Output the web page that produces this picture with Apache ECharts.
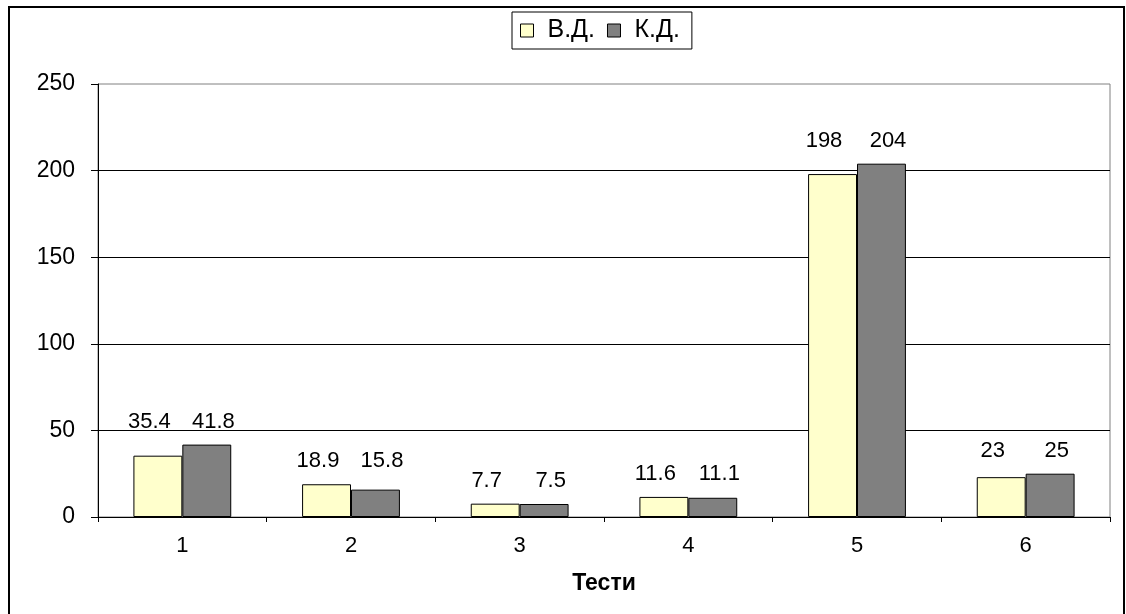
<!DOCTYPE html>
<html>
<head>
<meta charset="utf-8">
<script src="https://cdn.jsdelivr.net/npm/echarts@6/dist/echarts.min.js"></script>
<style>
html,body{margin:0;padding:0;background:#fff;}
#chart{width:1126px;height:614px;}
</style>
</head>
<body>
<div id="chart"></div>
<script>
const categories = ['1', '2', '3', '4', '5', '6'];
const seriesNames = ['В.Д.', 'К.Д.'];
const vdValues = [35.4, 18.9, 7.7, 11.6, 198, 23];
const kdValues = [41.8, 15.8, 7.5, 11.1, 204, 25];
const yTicks = [0, 50, 100, 150, 200, 250];

const FONT = 'Arial, "Liberation Sans", sans-serif';
const chart = echarts.init(document.getElementById('chart'), null, {renderer: 'canvas'});

// Data labels of a category sit at the same height, above the taller bar
const pairTops = categories.map((c, i) => [i, Math.max(vdValues[i], kdValues[i])]);

function labelSeries(values, dx) {
  return {
    type: 'scatter',
    data: pairTops,
    symbolSize: 0,
    silent: true,
    z: 5,
    itemStyle: {opacity: 1, color: '#000'},
    emphasis: {disabled: true},
    label: {
      show: true,
      position: 'top',
      distance: 12,
      offset: [dx, 0],
      color: '#000',
      opacity: 1,
      fontFamily: FONT,
      fontSize: 22,
      formatter: p => String(values[p.dataIndex])
    }
  };
}

chart.setOption({
  animation: false,
  backgroundColor: '#fff',
  graphic: [{
    type: 'rect',
    shape: {x: 9, y: 7, width: 1115, height: 620},
    style: {fill: 'none', stroke: '#000', lineWidth: 2},
    silent: true,
    z: -1
  }],
  legend: {
    left: 512,
    top: 12,
    padding: [6, 12, 6, 8],
    borderColor: '#000',
    borderWidth: 1,
    itemWidth: 13,
    itemHeight: 13,
    itemGap: 12,
    icon: 'rect',
    itemStyle: {borderColor: '#000', borderWidth: 1},
    textStyle: {fontFamily: FONT, fontSize: 25, color: '#000', padding: [0, 0, 0, 9]},
    data: seriesNames
  },
  grid: {
    left: 98,
    right: 16,
    top: 84,
    bottom: 97,
    show: true,
    borderColor: '#808080',
    borderWidth: 1,
    containLabel: false
  },
  xAxis: {
    type: 'category',
    data: categories,
    name: 'Тести',
    nameLocation: 'middle',
    nameGap: 55,
    nameTextStyle: {fontFamily: FONT, fontSize: 23, fontWeight: 'bold', color: '#000'},
    axisLine: {lineStyle: {color: '#000', width: 1}},
    axisTick: {show: true, length: 5, lineStyle: {color: '#000'}},
    axisLabel: {fontFamily: FONT, fontSize: 22, color: '#000', margin: 18}
  },
  yAxis: {
    type: 'value',
    min: yTicks[0],
    max: yTicks[yTicks.length - 1],
    interval: 50,
    axisLine: {show: true, lineStyle: {color: '#000', width: 1}},
    axisTick: {show: true, length: 7, lineStyle: {color: '#000'}},
    axisLabel: {fontFamily: FONT, fontSize: 23, color: '#000', margin: 23},
    splitLine: {show: true, showMaxLine: false, lineStyle: {color: '#000', width: 1}}
  },
  series: [
    {
      name: seriesNames[0],
      type: 'bar',
      data: vdValues,
      barGap: '0%',
      barCategoryGap: '42%',
      itemStyle: {color: '#FFFFCC', borderColor: '#000', borderWidth: 1}
    },
    {
      name: seriesNames[1],
      type: 'bar',
      data: kdValues,
      barGap: '0%',
      barCategoryGap: '42%',
      itemStyle: {color: '#808080', borderColor: '#000', borderWidth: 1}
    },
    labelSeries(vdValues, -33),
    labelSeries(kdValues, 31)
  ]
});
</script>
</body>
</html>
